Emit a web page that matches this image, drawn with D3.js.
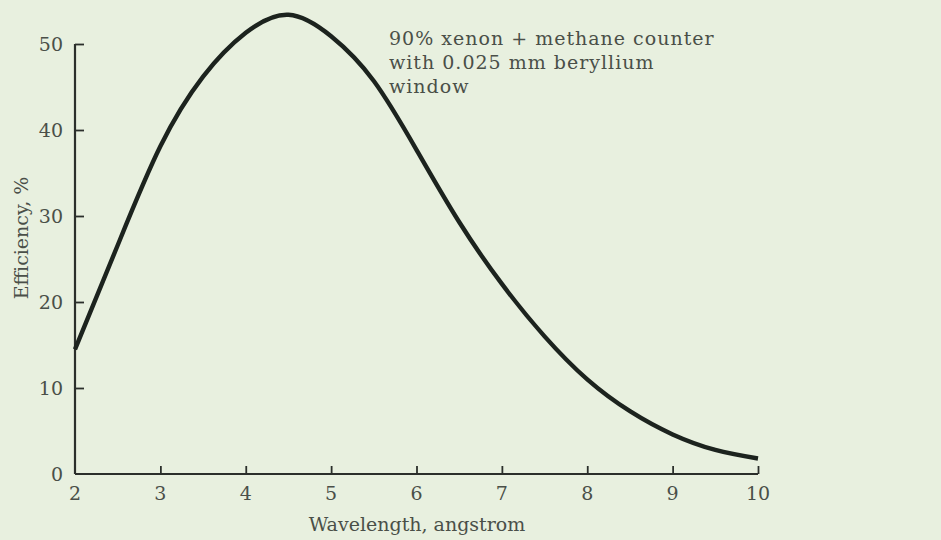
<!DOCTYPE html>
<html>
<head>
<meta charset="utf-8">
<script src="https://cdn.jsdelivr.net/npm/d3@7"></script>
<style>
  html, body { margin: 0; padding: 0; background: #e8f0df; }
  svg { display: block; }
  text { font-family: "DejaVu Serif", "Liberation Serif", serif; fill: #4a4f48; }
</style>
</head>
<body>
<svg id="chart" width="941" height="540"></svg>
<script>
// Detection efficiency of a 90% xenon + methane counter vs. wavelength
const wavelength = [2, 2.5, 3, 3.5, 4, 4.5, 5, 5.5, 6, 6.5, 7, 7.5, 8, 8.5, 9, 9.5, 10];
const efficiency = [14.5, 26.6, 38.1, 46.2, 51.3, 53.4, 50.9, 45.7, 37.7, 29.3, 22.1, 16.0, 11.0, 7.3, 4.6, 2.8, 1.8];
const xTicks = [2, 3, 4, 5, 6, 7, 8, 9, 10];
const yTicks = [0, 10, 20, 30, 40, 50];
const noteLines = ["90% xenon + methane counter", "with 0.025 mm beryllium", "window"];

const svg = d3.select("#chart");
const x = d3.scaleLinear().domain([2, 10]).range([75, 758]);
const y = d3.scaleLinear().domain([0, 50]).range([474, 44]);

const ink = "#2b2f2b";
const fs = 19;

// x axis: ticks point up into the plot
const xAxis = svg.append("g")
  .attr("transform", `translate(0,${y(0)})`)
  .call(d3.axisTop(x).tickValues(xTicks).tickSize(8).tickFormat(""));
xAxis.select(".domain").attr("stroke", ink).attr("stroke-width", 2.2).attr("d", `M${x(2)},0H${x(10)}`);
xAxis.selectAll(".tick line").attr("stroke", ink).attr("stroke-width", 1.8);
xAxis.selectAll(".tick").filter(d => d === 2).remove();
svg.append("g").selectAll("text").data(xTicks).join("text")
  .attr("x", d => x(d)).attr("y", y(0) + 26)
  .attr("text-anchor", "middle").attr("font-size", fs)
  .text(d => d);

// y axis: ticks point right into the plot
const yAxis = svg.append("g")
  .attr("transform", `translate(${x(2)},0)`)
  .call(d3.axisRight(y).tickValues(yTicks).tickSize(9).tickFormat(""));
yAxis.select(".domain").attr("stroke", ink).attr("stroke-width", 2.2).attr("d", `M0,${y(50)}V${y(0)}`);
yAxis.selectAll(".tick line").attr("stroke", ink).attr("stroke-width", 1.8);
yAxis.selectAll(".tick").filter(d => d === 0).remove();
svg.append("g").selectAll("text").data(yTicks).join("text")
  .attr("x", 63).attr("y", d => y(d) + 7)
  .attr("text-anchor", "end").attr("font-size", fs)
  .text(d => d);

// axis titles
svg.append("text")
  .attr("x", 417).attr("y", 531)
  .attr("text-anchor", "middle").attr("font-size", fs)
  .text("Wavelength, angstrom");
svg.append("text")
  .attr("transform", `translate(28,${238}) rotate(-90)`)
  .attr("text-anchor", "middle").attr("font-size", fs)
  .text("Efficiency, %");

// efficiency curve
const line = d3.line()
  .x((d, i) => x(wavelength[i]))
  .y(d => y(d))
  .curve(d3.curveNatural);
svg.append("path")
  .datum(efficiency)
  .attr("fill", "none")
  .attr("stroke", "#1c231e")
  .attr("stroke-width", 4.4)
  .attr("d", line);

// annotation
svg.append("g").selectAll("text").data(noteLines).join("text")
  .attr("x", 389).attr("y", (d, i) => 45 + i * 24)
  .attr("font-size", fs)
  .attr("letter-spacing", 1)
  .text(d => d);
</script>
</body>
</html>
